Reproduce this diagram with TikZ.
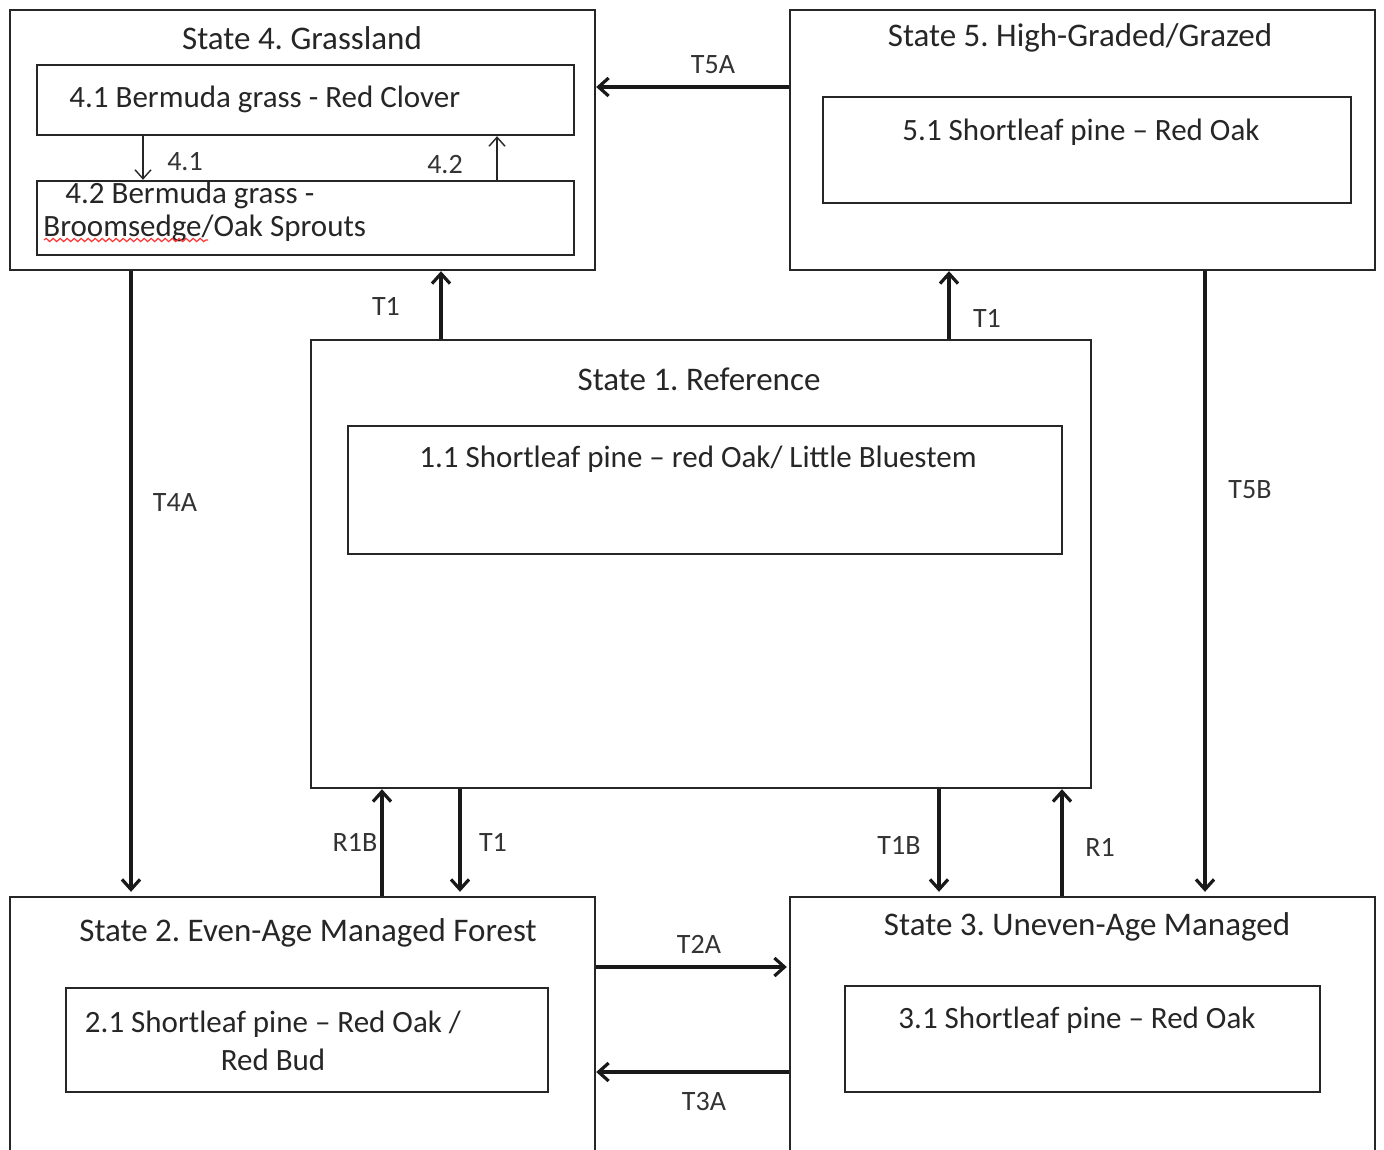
\documentclass[tikz,border=0pt]{standalone}
\usepackage{fontspec}
\setmainfont{Carlito}
\frenchspacing
\usetikzlibrary{arrows.meta,fit,decorations.pathmorphing}
\begin{document}
\begin{tikzpicture}[x=0.5pt,y=-0.5pt,
  box/.style={draw=black!85, line width=1.2pt, inner sep=0pt},
  ttl/.style={font=\fontsize{16.5}{19}\selectfont, text=black!85, inner sep=0pt},
  txt/.style={font=\fontsize{15.5}{19}\selectfont, text=black!85, inner sep=0pt},
  lbl/.style={font=\fontsize{14}{16}\selectfont, text=black!80, inner sep=0pt},
  arr/.style={-{Straight Barb[length=5pt,width=9pt]}, line width=1.6pt, draw=black!90},
  tarr/.style={-{Straight Barb[length=4.5pt,width=8pt]}, line width=0.7pt, draw=black!85}]
\useasboundingbox (0,0) rectangle (1384,1149);
\fill[white] (0,0) rectangle (1384,1149);

% State 4
\node[box, fit={(10,10) (595,270)}] (s4) {};
\node[ttl] (s4t) at (302,38) {State 4. Grassland};
\node[box, fit={(37,65) (574,135)}] (b41) {};
\node[txt, anchor=west] (b41t) at (69,99) {4.1 Bermuda grass - Red Clover};
\node[box, fit={(37,181) (574,255)}] (b42) {};
\node[txt, anchor=north west, align=left, font=\fontsize{15.5}{16.5}\selectfont] (b42t) at (43,182) {\hspace*{11pt}4.2 Bermuda grass -\\Broomsedge/Oak Sprouts};
\draw[red!80, line width=0.6pt, decorate, decoration={snake, amplitude=0.8pt, segment length=3.5pt}] (44,240) -- (208,240);
\coordinate (x41) at (143,0);
\coordinate (x42) at (497,0);
\draw[tarr] (b41.south -| x41) -- (b42.north -| x41);
\draw[tarr] (b42.north -| x42) -- (b41.south -| x42);
\node[lbl] (l41) at (185,162) {4.1};
\node[lbl] (l42) at (445,165) {4.2};

% State 5
\node[box, fit={(790,10) (1375,270)}] (s5) {};
\node[ttl] (s5t) at (1080,38) {State 5. High-Graded/Grazed};
\node[box, fit={(823,97) (1351,203)}] (b51) {};
\node[txt] (b51t) at (1081,132) {5.1 Shortleaf pine -- Red Oak};

% State 1
\node[box, fit={(311,340) (1091,788)}] (s1) {};
\node[ttl] (s1t) at (699,379) {State 1. Reference};
\node[box, fit={(348,426) (1062,554)}] (b11) {};
\node[txt] (b11t) at (698,459) {1.1 Shortleaf pine -- red Oak/ Little Bluestem};

% State 2
\node[box, fit={(10,897) (595,1154)}] (s2) {};
\node[ttl] (s2t) at (308,933) {State 2. Even-Age Managed Forest};
\node[box, fit={(66,988) (548,1092)}] (b21) {};
\node[txt, align=center, font=\fontsize{15.5}{19}\selectfont] (b21t) at (273,1041) {2.1 Shortleaf pine -- Red Oak /\\Red Bud};

% State 3
\node[box, fit={(790,897) (1375,1154)}] (s3) {};
\node[ttl] (s3t) at (1087,927) {State 3. Uneven-Age Managed};
\node[box, fit={(845,986) (1320,1092)}] (b31) {};
\node[txt] (b31t) at (1077,1020) {3.1 Shortleaf pine -- Red Oak};

% connector x/y positions
\coordinate (xa) at (441,0);
\coordinate (xb) at (949,0);
\coordinate (xc) at (131,0);
\coordinate (xd) at (1205,0);
\coordinate (xe) at (382,0);
\coordinate (xf) at (460,0);
\coordinate (xg) at (939,0);
\coordinate (xh) at (1062,0);
\coordinate (ya) at (0,87);
\coordinate (yb) at (0,967);
\coordinate (yc) at (0,1072);

% connectors
\draw[arr] (s5.west |- ya) -- (s4.east |- ya);
\node[lbl] (t5a) at (713,65) {T5A};
\draw[arr] (s1.north -| xa) -- (s4.south -| xa);
\node[lbl] (t1a) at (386,306) {T1};
\draw[arr] (s1.north -| xb) -- (s5.south -| xb);
\node[lbl] (t1b) at (987,318) {T1};
\draw[arr] (s4.south -| xc) -- ([yshift=2pt]s2.north -| xc);
\node[lbl] (t4a) at (175,503) {T4A};
\draw[arr] (s5.south -| xd) -- ([yshift=2pt]s3.north -| xd);
\node[lbl] (t5b) at (1250,490) {T5B};
\draw[arr] (s2.north -| xe) -- (s1.south -| xe);
\node[lbl] (r1b) at (355,842) {R1B};
\draw[arr] (s1.south -| xf) -- ([yshift=2pt]s2.north -| xf);
\node[lbl] (t1c) at (493,842) {T1};
\draw[arr] (s1.south -| xg) -- ([yshift=2pt]s3.north -| xg);
\node[lbl] (t1d) at (899,845) {T1B};
\draw[arr] (s3.north -| xh) -- (s1.south -| xh);
\node[lbl] (r1) at (1100,847) {R1};
\draw[arr] (s2.east |- yb) -- ([xshift=-1pt]s3.west |- yb);
\node[lbl] (t2a) at (699,944) {T2A};
\draw[arr] (s3.west |- yc) -- (s2.east |- yc);
\node[lbl] (t3a) at (704,1101) {T3A};
\end{tikzpicture}
\end{document}
